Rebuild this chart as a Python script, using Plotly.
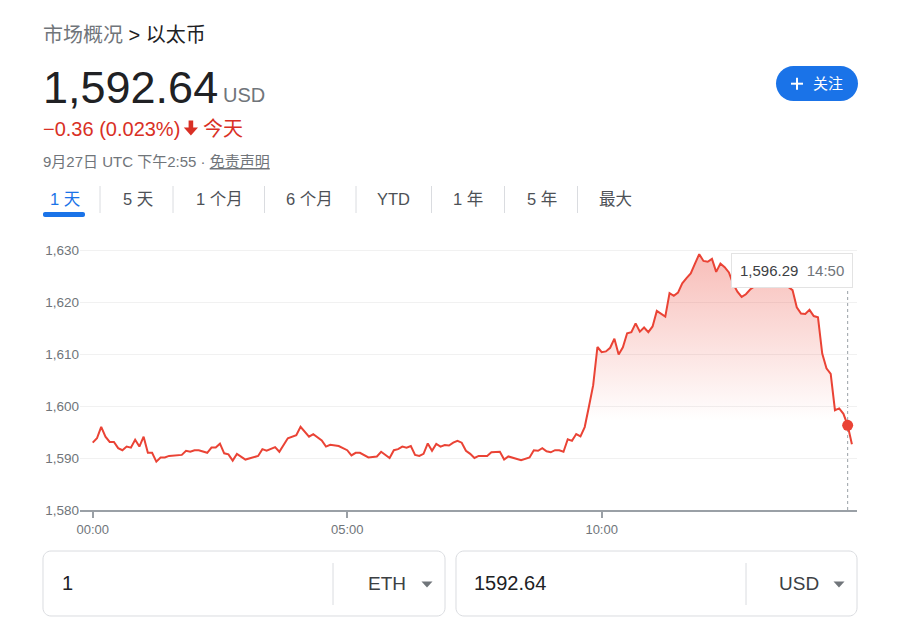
import plotly.graph_objects as go
import pandas as pd

# ---------------- data ----------------
minutes = [0, 5, 10, 15, 20, 25, 30, 35, 40, 45, 50, 55, 60, 65, 70, 75, 80, 85, 90, 100,
           105, 110, 115, 120, 125, 135, 140, 145, 150, 155, 160, 165, 170, 180, 185, 195,
           200, 205, 215, 220, 230, 240, 245, 250, 255, 260, 270, 275, 280, 290, 300, 305,
           310, 315, 325, 335, 340, 350, 355, 360, 365, 370, 375, 380, 385, 390, 395, 400,
           405, 410, 415, 420, 425, 430, 435, 440, 445, 450, 455, 465, 470, 480, 485, 490,
           500, 505, 515, 520, 525, 530, 535, 540, 545, 550, 555, 560, 565, 570, 575, 580,
           585, 590, 595, 600, 605, 610, 615, 620, 625, 630, 635, 640, 645, 650, 655, 660,
           665, 670, 675, 680, 685, 690, 695, 700, 705, 710, 715, 720, 725, 730, 735, 740,
           745, 750, 755, 760, 765, 770, 775, 780, 785, 790, 795, 800, 805, 810, 815, 820,
           825, 830, 835, 840, 845, 850, 855, 860, 865, 870, 875, 880, 885, 890, 895]
prices = [1592.95, 1593.8, 1596.0, 1594.1, 1593.1, 1593.1, 1591.9, 1591.5, 1592.2, 1592.0,
          1593.5, 1592.2, 1594.1, 1591.0, 1591.0, 1589.3, 1590.1, 1590.1, 1590.4, 1590.6,
          1590.6, 1591.4, 1591.2, 1591.5, 1591.5, 1591.0, 1592.0, 1592.0, 1592.75, 1590.9,
          1590.7, 1589.5, 1590.8, 1589.7, 1589.9, 1590.4, 1591.7, 1591.4, 1592.1, 1591.2,
          1593.8, 1594.4, 1596.0, 1595.1, 1594.1, 1594.6, 1593.4, 1592.2, 1592.55, 1592.3,
          1591.5, 1590.5, 1591.0, 1591.0, 1590.1, 1590.3, 1591.2, 1590.0, 1591.5, 1591.7,
          1592.2, 1592.0, 1592.3, 1590.6, 1590.4, 1590.8, 1592.8, 1591.4, 1592.7, 1592.2,
          1592.5, 1592.4, 1592.95, 1593.3, 1592.95, 1591.4, 1590.8, 1590.0, 1590.4, 1590.4,
          1591.1, 1591.2, 1589.7, 1590.3, 1589.9, 1589.6, 1590.1, 1591.5, 1591.4, 1591.9,
          1591.3, 1591.1, 1591.5, 1591.5, 1591.2, 1593.6, 1593.3, 1594.6, 1594.15, 1595.95,
          1599.9, 1604.0, 1611.35, 1610.35, 1610.5, 1611.2, 1612.95, 1609.9, 1611.3, 1614.0,
          1614.2, 1615.9, 1614.3, 1615.1, 1614.2, 1615.3, 1618.3, 1617.8, 1617.2, 1621.7,
          1621.2, 1621.8, 1623.6, 1624.6, 1625.5, 1627.4, 1629.2, 1627.9, 1627.75, 1628.3,
          1625.8, 1627.4, 1626.7, 1625.7, 1623.5, 1622.0, 1621.0, 1621.5, 1622.4, 1623.0,
          1623.3, 1623.9, 1623.4, 1624.0, 1623.6, 1623.8, 1623.2, 1622.9, 1622.3, 1619.0,
          1617.8, 1617.7, 1618.5, 1617.3, 1617.05, 1610.1, 1607.25, 1606.2, 1599.2, 1599.55,
          1598.5, 1596.29, 1592.64]

y_ticks = [1580, 1590, 1600, 1610, 1620, 1630]
x_tick_minutes = [0, 300, 600]
x_tick_labels = ["00:00", "05:00", "10:00"]
tabs = ["1 天", "5 天", "1 个月", "6 个月", "YTD", "1 年", "5 年", "最大"]
tooltip_minute = 890

base = pd.Timestamp("2022-09-27 00:00")
times = [(base + pd.Timedelta(minutes=m)).strftime("%Y-%m-%d %H:%M") for m in minutes]
tick_times = [(base + pd.Timedelta(minutes=m)).strftime("%Y-%m-%d %H:%M") for m in x_tick_minutes]
tip_i = minutes.index(tooltip_minute)

# ---------------- layout helpers ----------------
W, H = 909, 630
ML, MR, MT, MB = 80, 52, 249, 120
PW, PH = W - ML - MR, H - MT - MB


def px(x):
    return (x - ML) / PW


def py(y):
    return (H - MB - y) / PH


LATIN = "Arial, 'Liberation Sans', 'Noto Sans CJK SC', sans-serif"
RED = "#ea4335"
TXTRED = "#d93025"
GRAY = "#70757a"
DARK = "#202124"
BLUE = "#1a73e8"

fig = go.Figure()

fig.add_trace(go.Scatter(
    x=times, y=prices, mode="lines",
    line=dict(color=RED, width=2),
    fill="tozeroy",
    fillgradient=dict(type="vertical", start=1597, stop=1630,
                      colorscale=[[0, "rgba(234,67,53,0)"], [1, "rgba(234,67,53,0.36)"]]),
    hoverinfo="skip", showlegend=False,
))
fig.add_trace(go.Scatter(
    x=[times[tip_i]], y=[prices[tip_i]], mode="markers",
    marker=dict(color=RED, size=11), hoverinfo="skip", showlegend=False,
))


def rrect(x0, y0, x1, y1, r):
    k = 0.5523 * r
    pts = [("M", [(x0 + r, y0)]), ("L", [(x1 - r, y0)]),
           ("C", [(x1 - r + k, y0), (x1, y0 + r - k), (x1, y0 + r)]),
           ("L", [(x1, y1 - r)]),
           ("C", [(x1, y1 - r + k), (x1 - r + k, y1), (x1 - r, y1)]),
           ("L", [(x0 + r, y1)]),
           ("C", [(x0 + r - k, y1), (x0, y1 - r + k), (x0, y1 - r)]),
           ("L", [(x0, y0 + r)]),
           ("C", [(x0, y0 + r - k), (x0 + r - k, y0), (x0 + r, y0)])]
    s = ""
    for cmd, ps in pts:
        s += cmd + " ".join(f"{px(a):.5f},{py(b):.5f}" for a, b in ps) + " "
    return s + "Z"


def poly(points):
    return "M" + " L".join(f"{px(a):.5f},{py(b):.5f}" for a, b in points) + " Z"


shapes = []
annos = []


def text(x, y, s, size, color, anchor="left", family=LATIN):
    annos.append(dict(x=px(x), y=py(y), xref="paper", yref="paper", text=s,
                      showarrow=False, xanchor=anchor, yanchor="middle",
                      font=dict(size=size, color=color, family=family), borderpad=0))


# header
text(42, 35, f"<span style='color:{GRAY}'>市场概况</span> > 以太币", 20, DARK)
text(42, 88, f"{prices[-1]:,.2f}", 45, DARK)
text(222, 95, "USD", 20, GRAY)
text(42, 129, "−0.36 (0.023%)", 20, TXTRED)
shapes.append(dict(type="path", xref="paper", yref="paper",
                   path=poly([(188.6, 120.5), (193.2, 120.5), (193.2, 127.5), (198, 127.5),
                              (190.9, 135.5), (183.8, 127.5), (188.6, 127.5)]),
                   fillcolor=TXTRED, line=dict(width=0)))
text(202, 129, "今天", 20, TXTRED)
text(42, 161, "9月27日 UTC 下午2:55 · <u>免责声明</u>", 15, GRAY)

# follow button
shapes.append(dict(type="path", xref="paper", yref="paper", path=rrect(776, 66, 858, 101, 17.5),
                   fillcolor=BLUE, line=dict(width=0)))
shapes.append(dict(type="line", xref="paper", yref="paper", x0=px(791), x1=px(803), y0=py(83.7), y1=py(83.7),
                   line=dict(color="white", width=2)))
shapes.append(dict(type="line", xref="paper", yref="paper", x0=px(797), x1=px(797), y0=py(77.7), y1=py(89.7),
                   line=dict(color="white", width=2)))
text(812, 83.5, "关注", 15, "white")

# tabs
tab_centers = [65, 138, 219.5, 309.5, 393, 468, 541.5, 615.5]
for i, (lab, cx) in enumerate(zip(tabs, tab_centers)):
    text(cx, 199, lab, 16.5, BLUE if i == 0 else "#4d5156", anchor="center")
for sx in [100, 173, 264.5, 356, 431.5, 504.5, 577.5]:
    shapes.append(dict(type="line", xref="paper", yref="paper", x0=px(sx), x1=px(sx), y0=py(186), y1=py(213),
                       line=dict(color="#dadce0", width=1)))
shapes.append(dict(type="path", xref="paper", yref="paper", path=rrect(43, 212, 85, 217, 2),
                   fillcolor=BLUE, line=dict(width=0)))

# tooltip
shapes.append(dict(type="line", xref="x", yref="paper", x0=times[tip_i], x1=times[tip_i],
                   y0=0, y1=py(287), line=dict(color="#9aa0a6", width=1, dash="dot"), layer="below"))
annos.append(dict(x=times[tip_i], xref="x", y=py(253), yref="paper", xanchor="right", yanchor="top",
                  xshift=5, showarrow=False,
                  text=f"{prices[tip_i]:,.2f}  <span style='color:{GRAY}'>{times[tip_i][-5:]}</span>",
                  font=dict(size=15, color="#3c4043", family=LATIN),
                  bgcolor="white", bordercolor="#e3e3e3", borderwidth=1, borderpad=8))

# converter boxes
for (x0, x1, sep) in [(43, 445, 333), (456, 857, 746)]:
    shapes.append(dict(type="path", xref="paper", yref="paper", path=rrect(x0, 551, x1, 616, 8),
                       fillcolor="white", line=dict(color="#dadce0", width=1)))
    shapes.append(dict(type="line", xref="paper", yref="paper", x0=px(sep), x1=px(sep), y0=py(563), y1=py(605),
                       line=dict(color="#dadce0", width=1)))
for cx in [427, 839]:
    shapes.append(dict(type="path", xref="paper", yref="paper",
                       path=poly([(cx - 5.5, 581.5), (cx + 5.5, 581.5), (cx, 587.5)]),
                       fillcolor=GRAY, line=dict(width=0)))
text(61, 583, "1", 20, DARK)
text(367, 583, "ETH", 19, "#3c4043")
text(473, 583, f"{prices[-1]:.2f}", 20, DARK)
text(778, 583, "USD", 19, "#3c4043")

fig.update_layout(
    width=W, height=H, margin=dict(l=ML, r=MR, t=MT, b=MB, pad=0),
    paper_bgcolor="white", plot_bgcolor="white",
    hovermode=False, showlegend=False,
    font=dict(family=LATIN, color=GRAY),
    xaxis=dict(type="date", range=["2022-09-26 23:45", "2022-09-27 15:01"],
               tickvals=tick_times, ticktext=x_tick_labels,
               ticks="outside", ticklen=6, tickwidth=1.5, tickcolor="#9aa0a6",
               showline=True, linecolor="#9aa0a6", linewidth=2,
               showgrid=False, zeroline=False, fixedrange=True,
               tickfont=dict(size=13, color=GRAY, family=LATIN)),
    yaxis=dict(range=[1580, 1630.2], tickvals=y_ticks, tickformat=",",
               showgrid=True, gridcolor="#f1f1f1", gridwidth=1,
               showline=False, zeroline=False, ticks="", fixedrange=True,
               tickfont=dict(size=13.5, color=GRAY, family=LATIN)),
    shapes=shapes, annotations=annos,
)

fig.write_html("out.html", config={"displayModeBar": False},
               post_script="document.body.style.margin='0';document.body.style.overflow='hidden';")
